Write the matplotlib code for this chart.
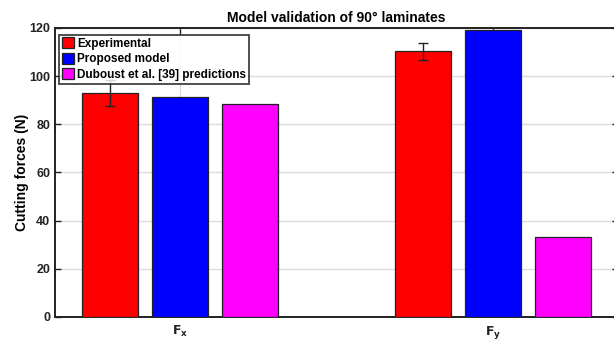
import numpy as np
import matplotlib.pyplot as plt

plt.rcParams['font.family'] = ['Liberation Sans', 'DejaVu Sans']
plt.rcParams['font.weight'] = 'bold'

# cutting force components and the three data sources
components = ['$\\mathbf{F_x}$', '$\\mathbf{F_y}$']
series_names = ['Experimental', 'Proposed model', 'Duboust et al. [39] predictions']
experimental = [92.9, 110.2]
experimental_err = [5.4, 3.7]
proposed = [91.2, 119.3]
duboust = [88.5, 33.2]
colors = ['#ff0000', '#0000ff', '#ff00ff']

fig = plt.figure(figsize=(6.14, 3.41), dpi=100)
ax = fig.add_axes([0.0896, 0.0704, 0.917, 0.848])

x = np.arange(1, len(components) + 1)
width = 0.179
offset = 0.224
values = [experimental, proposed, duboust]
for k, (vals, name, c) in enumerate(zip(values, series_names, colors)):
    ax.bar(x + (k - 1) * offset, vals, width, color=c, edgecolor='#222222',
           linewidth=0.9, label=name, zorder=3)

ax.errorbar(x - offset, experimental, yerr=experimental_err, fmt='none',
            ecolor='#222222', elinewidth=1.0, capsize=3.5, capthick=1.0, zorder=4)

ax.set_xlim(0.6, 2.4)
ax.set_ylim(0, 120)
ax.set_yticks(np.arange(0, 121, 20))
ax.set_xticks(x)
ax.set_xticklabels(components, fontsize=10.5)
ax.tick_params(axis='both', direction='in', length=4, width=1.0, colors='#222222',
               top=True, right=True, labelsize=9)
ax.tick_params(axis='x', pad=5)
for lab in ax.get_yticklabels():
    lab.set_fontweight('bold')
    lab.set_color('#222222')
ax.grid(True, color='#dddddd', linewidth=1.0, zorder=0)
ax.set_axisbelow(True)
for s in ax.spines.values():
    s.set_linewidth(1.4)
    s.set_color('#222222')

ax.set_ylabel('Cutting forces (N)', fontsize=10, fontweight='bold', labelpad=0)
ax.set_title('Model validation of 90° laminates', fontsize=10, fontweight='bold', pad=4)

leg = ax.legend(loc='upper left', bbox_to_anchor=(0.003, 0.985), fontsize=8.5,
                frameon=True, fancybox=False, edgecolor='#222222',
                handlelength=1.05, handleheight=1.05, handletextpad=0.2,
                borderpad=0.25, labelspacing=0.25, borderaxespad=0.2)
leg.get_frame().set_linewidth(1.4)
for t in leg.get_texts():
    t.set_fontweight('bold')

fig.savefig('out.png', dpi=100)
